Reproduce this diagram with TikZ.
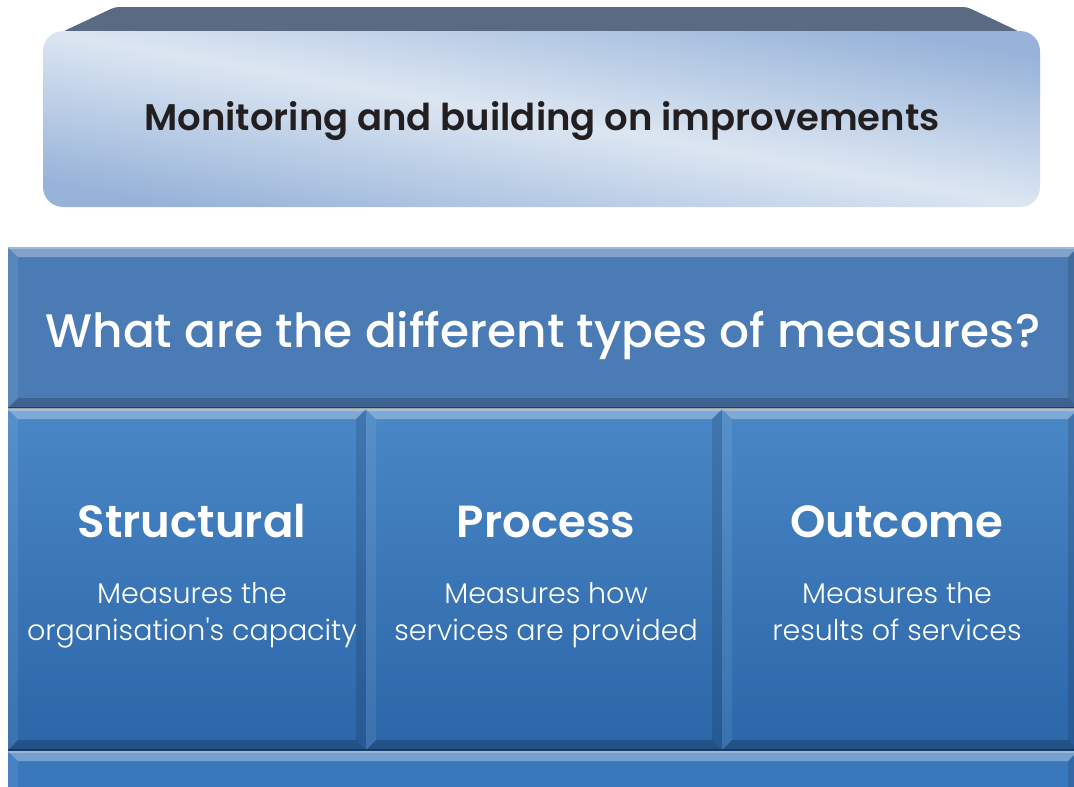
\documentclass[tikz,border=0pt]{standalone}
\usepackage{fontspec}
\setmainfont{Poppins}
\newfontfamily\lightfont{Poppins Light}
\newfontfamily\midfont{Poppins Medium}
\newfontfamily\semifont{Poppins SemiBold}
\usetikzlibrary{positioning}

\definecolor{lidSlate}{HTML}{5A6A82}
\definecolor{boxLight}{HTML}{DCE6F2}
\definecolor{boxBlue}{HTML}{97B3D9}
\definecolor{headBlue}{HTML}{4A7BB5}
\definecolor{panelTop}{HTML}{4A87C6}
\definecolor{panelBot}{HTML}{2B66A8}
\definecolor{footBlue}{HTML}{3A78BD}
\definecolor{inkBlack}{HTML}{231F20}

\newcommand{\bev}{10}
% face, then the four bevel strips
\newcommand{\bevelpanel}[5]{%
  \fill[#5] (#1,#2) rectangle (#3,#4);
  \fill[white,opacity=0.3] (#1,#2) -- (#3,#2) -- ({#3-\bev},{#2+\bev}) -- ({#1+\bev},{#2+\bev}) -- cycle;
  \draw[white,opacity=0.25,line width=1.5] (#1,{#2+1}) -- (#3,{#2+1});
  \fill[white,opacity=0.08] (#1,#2) -- ({#1+\bev},{#2+\bev}) -- ({#1+\bev},{#4-\bev}) -- (#1,#4) -- cycle;
  \fill[black,opacity=0.12] (#3,#2) -- (#3,#4) -- ({#3-\bev},{#4-\bev}) -- ({#3-\bev},{#2+\bev}) -- cycle;
  \fill[black,opacity=0.2] (#1,#4) -- (#3,#4) -- ({#3-\bev},{#4-\bev}) -- ({#1+\bev},{#4-\bev}) -- cycle;
  \draw[black,opacity=0.35,line width=1.5] (#1,#4) -- (#3,#4);
}

\tikzset{
  headtext/.style={white, font=\midfont\fontsize{47}{52}\selectfont, anchor=base},
  kindtext/.style={white, font=\semifont\fontsize{45}{50}\selectfont, anchor=base},
  desctext/.style={white, font=\lightfont\fontsize{28.5}{37}\selectfont, align=center, anchor=base},
  paneface/.style={top color=panelTop, bottom color=panelBot}
}

\begin{document}
\begin{tikzpicture}[x=1pt,y=-1pt]
    \clip (0,0) rectangle (1074,787);
    \fill[white] (0,0) rectangle (1074,787);

    % Lid of the top box
    \fill[lidSlate, rounded corners=4] (62,32) -- (115,7) -- (967,7) -- (1020,32) -- cycle;
    % Top box, light band along its diagonal
    \shade[top color=boxBlue, bottom color=boxBlue, middle color=boxLight, shading angle=-10,
        rounded corners=20] (43,31) rectangle (1040,207);
    \node[inkBlack, font=\semifont\fontsize{37}{40}\selectfont, anchor=base] (improve) at (542,130) {Monitoring and building on improvements};

    % Header band
    \bevelpanel{8}{247}{1078}{408}{headBlue}
    \node[headtext] (question) at (543,347) {What are the different types of measures?};

    % Three panels
    \bevelpanel{8}{409}{366}{750}{paneface}
    \bevelpanel{366}{409}{722}{750}{paneface}
    \bevelpanel{722}{409}{1078}{750}{paneface}

    \node[kindtext] (structural) at (192,537) {Structural};
    \node[desctext] (structuralD) at (192,640) {Measures the\\organisation's capacity};
    \node[kindtext] (process) at (546,537) {Process};
    \node[desctext] (processD) at (546,640) {Measures how\\services are provided};
    \node[kindtext] (outcome) at (897,537) {Outcome};
    \node[desctext] (outcomeD) at (897,640) {Measures the\\results of services};

    % Bottom band
    \bevelpanel{8}{751}{1078}{800}{footBlue}
\end{tikzpicture}
\end{document}
